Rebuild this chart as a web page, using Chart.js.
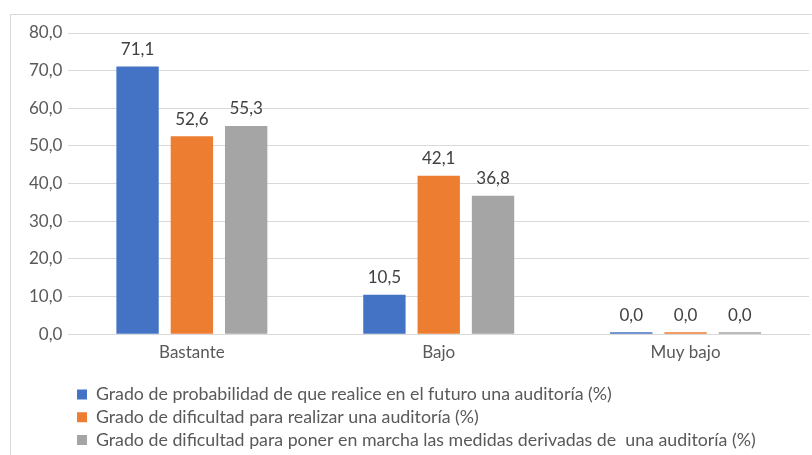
<!DOCTYPE html>
<html lang="es">
<head>
<meta charset="UTF-8">
<title>Grado de auditoría</title>
<style>
  body { margin: 0; background: #fff; overflow: hidden; }
  .marco { position: absolute; left: 10px; top: 14px; width: 900px; height: 600px; border: 1px solid #d9d9d9; }
  .grafico { position: absolute; left: 0; top: 0; width: 812px; height: 455px; }
</style>
</head>
<body>
<div class="marco"></div>
<div class="grafico"><canvas id="barras"></canvas></div>
<script src="https://cdn.jsdelivr.net/npm/chart.js"></script>
<script>
const categorias = ['Bastante', 'Bajo', 'Muy bajo'];
const probabilidad = [71.1, 10.5, 0.0];
const dificultadRealizar = [52.6, 42.1, 0.0];
const dificultadMedidas = [55.3, 36.8, 0.0];
const series = [
  'Grado de probabilidad de que realice en el futuro una auditoría (%)',
  'Grado de dificultad para realizar una auditoría (%)',
  'Grado de dificultad para poner en marcha las medidas derivadas de  una auditoría (%)'
];
const colores = ['#4472c4', '#ed7d31', '#a5a5a5'];

const fuente = 'Lato, "Open Sans", sans-serif';
const coma = v => v.toFixed(1).replace('.', ',');

// etiquetas de valor encima de cada barra
const etiquetas = {
  id: 'etiquetas',
  afterDatasetsDraw(chart) {
    const ctx = chart.ctx;
    ctx.save();
    ctx.font = '17px ' + fuente;
    ctx.fillStyle = '#404040';
    ctx.textAlign = 'center';
    ctx.textBaseline = 'middle';
    chart.data.datasets.forEach((ds, i) => {
      chart.getDatasetMeta(i).data.forEach((bar, j) => {
        ctx.fillText(coma(ds.data[j]), bar.x, bar.y - 17);
      });
    });
    ctx.restore();
  }
};

// mover la leyenda hacia la derecha y un poco abajo como en el original
const leyendaIzq = {
  id: 'leyendaIzq',
  afterLayout(chart) {
    chart.legend.left = 72;
    chart.legend.top += 4;
  }
};

new Chart(document.getElementById('barras'), {
  type: 'bar',
  data: {
    labels: categorias,
    datasets: [
      { label: series[0], data: probabilidad, backgroundColor: colores[0] },
      { label: series[1], data: dificultadRealizar, backgroundColor: colores[1] },
      { label: series[2], data: dificultadMedidas, backgroundColor: colores[2] }
    ]
  },
  options: {
    responsive: true,
    maintainAspectRatio: false,
    animation: false,
    datasets: { bar: { categoryPercentage: 0.66, barPercentage: 0.78, minBarLength: 2 } },
    layout: { padding: { left: 23, top: 33, right: 3, bottom: 0 } },
    scales: {
      x: {
        grid: { display: false },
        border: { color: '#d9d9d9' },
        ticks: { color: '#595959', font: { family: fuente, size: 17 }, padding: 0 },
        afterFit: s => { s.height += 14; }
      },
      y: {
        min: 0, max: 80,
        ticks: { stepSize: 10, color: '#595959', font: { family: fuente, size: 17 }, padding: 6, callback: v => coma(v) },
        grid: { color: '#d9d9d9', drawTicks: false },
        border: { display: false }
      }
    },
    plugins: {
      tooltip: { enabled: false },
      legend: {
        position: 'bottom',
        align: 'start',
        labels: {
          color: '#595959',
          font: { family: fuente, size: 17.8 },
          boxWidth: 10, boxHeight: 10,
          padding: 5
        }
      }
    }
  },
  plugins: [etiquetas, leyendaIzq]
});
</script>
</body>
</html>
